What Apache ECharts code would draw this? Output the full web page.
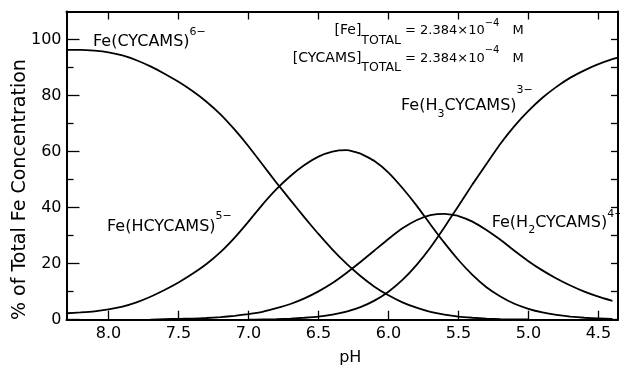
<!DOCTYPE html>
<html>
<head>
<meta charset="utf-8">
<script src="https://cdn.jsdelivr.net/npm/echarts@6/dist/echarts.min.js"></script>
<style>
html,body{margin:0;padding:0;background:#fff;}
#chart{width:620px;height:366px;}
</style>
</head>
<body>
<div id="chart"></div>
<script>
// ---- data ----
const pH = [8.3,8.2,8.1,8.0,7.9,7.8,7.7,7.6,7.5,7.4,7.3,7.2,7.1,7.0,6.9,6.8,6.7,6.6,6.5,6.4,6.3,6.2,6.1,6.0,5.9,5.8,5.7,5.6,5.5,5.4,5.3,5.2,5.1,5.0,4.9,4.8,4.7,4.6,4.5,4.4,4.36];
const feL   = [96.3,96.3,96.0,95.4,94.3,92.6,90.4,87.8,84.9,81.6,77.8,73.3,67.9,61.9,55.4,48.9,42.7,36.5,30.6,25.0,20.0,15.6,11.8,8.7,6.2,4.3,2.8,1.8,1.1,0.7,0.4,0.2,0.1,0.1,null,null,null,null,null,null,null];
const feHL  = [2.3,2.6,3.0,3.7,4.7,6.2,8.2,10.6,13.3,16.4,19.9,24.1,29.2,35.0,41.1,46.6,51.3,55.2,58.2,60.0,60.5,59.3,56.6,52.5,47.0,40.8,34.0,27.4,21.3,16.0,11.6,8.3,5.7,3.9,2.6,1.7,1.1,0.7,0.5,0.3,null];
const feH2L = [null,null,null,null,null,null,0.0,0.2,0.3,0.4,0.6,0.9,1.4,2.0,2.8,4.1,5.6,7.6,10.1,13.1,16.7,20.6,24.7,28.8,32.6,35.5,37.3,37.8,37.0,35.0,32.0,28.5,24.6,20.9,17.6,14.7,12.2,10.0,8.2,6.7,null];
const feH3L = [null,null,null,null,null,null,null,null,null,null,null,null,null,0.0,0.1,0.2,0.4,0.7,1.1,1.8,2.9,4.5,6.8,10.0,14.2,19.5,25.8,33.0,40.6,48.3,55.6,62.8,69.1,74.5,79.2,83.1,86.4,89.0,91.2,93.0,93.5];
const xTicks = [4.5,5.0,5.5,6.0,6.5,7.0,7.5,8.0];
const yTicks = [0,20,40,60,80,100];
const yMinorTicks = [10,30,50,70,90];
const yRightTicks = [0,10,20,30,40,50,60,70,80,90,100];

const FONT = '"DejaVu Sans", "Liberation Sans", sans-serif';
const chart = echarts.init(document.getElementById('chart'), null, {renderer:'canvas'});

const mc = document.createElement('canvas').getContext('2d');
function tw(t, s){ mc.font = s + 'px ' + FONT; return mc.measureText(t).width; }
// parts: [text, fontSize, dy]
function label(x, y, parts, alignRight){
  let total = 0; parts.forEach(p => total += tw(p[0], p[1]));
  let cx = alignRight ? x - total : x;
  const children = [];
  parts.forEach(p => {
    children.push({type:'text', x: cx, y: y + p[2], silent:true,
      style:{text:p[0], fontSize:p[1], fontFamily:FONT, fill:'#000', align:'left', verticalAlign:'middle'}});
    cx += tw(p[0], p[1]);
  });
  return {type:'group', children};
}

function pairs(arr){ return pH.map((x,i)=>[x, arr[i]]); }
function lineSeries(name, arr){
  return {name, type:'line', data: pairs(arr), showSymbol:false, smooth:0.15, connectNulls:false,
    lineStyle:{color:'#000', width:1.8}, itemStyle:{color:'#000'}, xAxisIndex:0, yAxisIndex:0, z:3};
}

const axisLineStyle = {show:true, onZero:false, lineStyle:{color:'#000', width:2}};
const xBase = {type:'value', min:4.36, max:8.3, inverse:true, splitLine:{show:false}};
const yBase = {type:'value', min:0, max:110, splitLine:{show:false}};

const option = {
  animation:false,
  backgroundColor:'#fff',
  grid:{left:66.5, right:2, top:11.5, bottom:46.3, containLabel:false, outerBoundsMode:'none'},
  xAxis:[
    Object.assign({}, xBase, {position:'bottom',
      axisLine:axisLineStyle,
      axisTick:{show:true, inside:true, length:9, customValues:xTicks, lineStyle:{color:'#000', width:1.3}},
      axisLabel:{show:true, customValues:xTicks, formatter:v=>Number(v).toFixed(1), margin:6, fontSize:16, color:'#000', fontFamily:FONT},
      name:'pH', nameLocation:'middle', nameGap:30,
      nameTextStyle:{fontSize:16, color:'#000', fontFamily:FONT, padding:[0,0,0,16]}}),
    Object.assign({}, xBase, {position:'top',
      axisLine:axisLineStyle,
      axisTick:{show:true, inside:true, length:8, customValues:xTicks, lineStyle:{color:'#000', width:1.3}},
      axisLabel:{show:false}})
  ],
  yAxis:[
    Object.assign({}, yBase, {position:'left',
      axisLine:axisLineStyle,
      axisTick:{show:true, inside:true, length:13, customValues:yTicks, lineStyle:{color:'#000', width:1.3}},
      axisLabel:{show:true, customValues:yTicks, margin:5, fontSize:16, color:'#000', fontFamily:FONT},
      name:'% of Total Fe Concentration', nameLocation:'middle', nameGap:37, nameRotate:90, nameMoveOverlap:false,
      nameTextStyle:{fontSize:19, color:'#000', fontFamily:FONT, padding:[0,48,0,0]}}),
    Object.assign({}, yBase, {position:'left',
      axisLine:{show:false},
      axisTick:{show:true, inside:true, length:7, customValues:yMinorTicks, lineStyle:{color:'#000', width:1.3}},
      axisLabel:{show:false}}),
    Object.assign({}, yBase, {position:'right',
      axisLine:axisLineStyle,
      axisTick:{show:true, inside:true, length:7, customValues:yRightTicks, lineStyle:{color:'#000', width:1.3}},
      axisLabel:{show:false}})
  ],
  series:[
    lineSeries('Fe(CYCAMS)6-', feL),
    lineSeries('Fe(HCYCAMS)5-', feHL),
    lineSeries('Fe(H2CYCAMS)4-', feH2L),
    lineSeries('Fe(H3CYCAMS)3-', feH3L)
  ],
  graphic:[
    label(93, 41.5, [['Fe(CYCAMS)',16,0],['6\u2212',11,-9]]),
    label(401, 30.5, [['[Fe]',14,0],['TOTAL',12.5,10]], true),
    label(405, 31, [['= 2.384\u00d710',13,0],['\u22124',10,-8],['\u2003M',13,0]]),
    label(401, 58, [['[CYCAMS]',14,0],['TOTAL',12.5,10]], true),
    label(405, 58.5, [['= 2.384\u00d710',13,0],['\u22124',10,-8],['\u2003M',13,0]]),
    label(401, 106, [['Fe(H',16,0],['3',11,8],['CYCAMS)',16,0],['3\u2212',11,-16]]),
    label(107, 227, [['Fe(HCYCAMS)',16,0],['5\u2212',11,-11]]),
    label(491.7, 222.5, [['Fe(H',16,0],['2',11,8],['CYCAMS)',16,0],['4\u2212',11,-8]])
  ]
};
chart.setOption(option);
</script>
</body>
</html>
